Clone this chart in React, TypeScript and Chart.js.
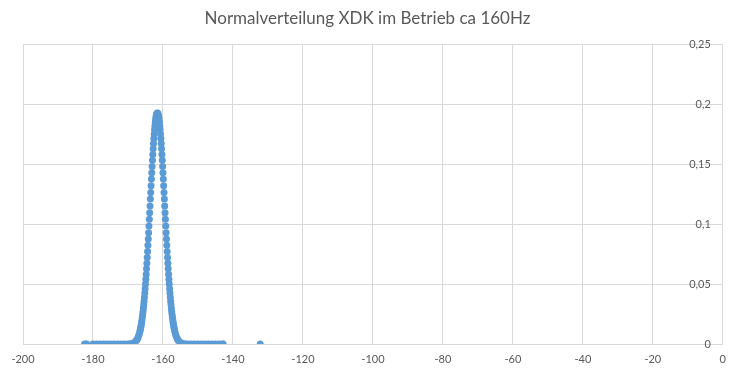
import React, { useEffect, useRef } from "react";
import { Chart, registerables } from "chart.js";

Chart.register(...registerables);

const titleText = "Normalverteilung XDK im Betrieb ca 160Hz";
const xMin = -200;
const xMax = 0;
const xStep = 20;
const yMin = 0;
const yMax = 0.25;
const yStep = 0.05;

const xValues = [
  -182.4, -181.8, -180.0, -179.0, -178.0, -177.0, -176.0, -175.0, -174.0, -173.0, -172.0, -171.0, -170.0,
  -169.3, -168.6, -168.1, -167.6, -167.4, -167.2, -167.0, -166.8, -166.6,
  -166.5, -166.4, -166.3, -166.2, -166.1, -166.0, -165.9, -165.8, -165.7, -165.6,
  -165.5, -165.4, -165.3, -165.2, -165.1, -165.0, -164.9, -164.8, -164.7, -164.6,
  -164.5, -164.4, -164.3, -164.2, -164.1, -164.0, -163.9, -163.8, -163.7, -163.6,
  -163.5, -163.4, -163.3, -163.2, -163.1, -163.0, -162.9, -162.8, -162.7, -162.6,
  -162.5, -162.4, -162.3, -162.2, -162.1, -162.0, -161.9, -161.8, -161.7, -161.6,
  -161.5, -161.4, -161.3, -161.2, -161.1, -161.0, -160.9, -160.8, -160.7, -160.6,
  -160.5, -160.4, -160.3, -160.2, -160.1, -160.0, -159.9, -159.8, -159.7, -159.6,
  -159.5, -159.4, -159.3, -159.2, -159.1, -159.0, -158.9, -158.8, -158.7, -158.6,
  -158.5, -158.4, -158.3, -158.2, -158.1, -158.0, -157.9, -157.8, -157.7, -157.6,
  -157.5, -157.4, -157.3, -157.2, -157.1, -157.0, -156.9, -156.8, -156.7, -156.6,
  -156.4, -156.2, -156.0, -155.8, -155.6, -155.1, -154.6, -153.9,
  -153.0, -152.0, -151.0, -150.0, -149.0, -148.0, -147.0, -146.0, -145.0, -144.0, -143.0, -142.8,
  -132.2,
];

const yValues = [
  0, 0, 0, 0, 0, 0, 0, 0, 0, 0, 0, 0, 0,
  0.0002, 0.0006, 0.0014, 0.0029, 0.0038, 0.005, 0.0064, 0.0082, 0.0104,
  0.0117, 0.0131, 0.0146, 0.0163, 0.0181, 0.0201, 0.0223, 0.0246, 0.0271, 0.0298,
  0.0327, 0.0357, 0.039, 0.0425, 0.0461, 0.05, 0.0541, 0.0583, 0.0628, 0.0674,
  0.0722, 0.0772, 0.0823, 0.0876, 0.0929, 0.0984, 0.104, 0.1096, 0.1152, 0.1209,
  0.1265, 0.1321, 0.1376, 0.143, 0.1482, 0.1533, 0.1582, 0.1629, 0.1674, 0.1715,
  0.1753, 0.1789, 0.182, 0.1848, 0.1872, 0.1892, 0.1907, 0.1918, 0.1925, 0.1927,
  0.1925, 0.1918, 0.1907, 0.1892, 0.1872, 0.1848, 0.182, 0.1789, 0.1753, 0.1715,
  0.1674, 0.1629, 0.1582, 0.1533, 0.1482, 0.143, 0.1376, 0.1321, 0.1265, 0.1209,
  0.1152, 0.1096, 0.104, 0.0984, 0.0929, 0.0876, 0.0823, 0.0772, 0.0722, 0.0674,
  0.0628, 0.0583, 0.0541, 0.05, 0.0461, 0.0425, 0.039, 0.0357, 0.0327, 0.0298,
  0.0271, 0.0246, 0.0223, 0.0201, 0.0181, 0.0163, 0.0146, 0.0131, 0.0117, 0.0104,
  0.0082, 0.0064, 0.005, 0.0038, 0.0029, 0.0014, 0.0006, 0.0002,
  0, 0, 0, 0, 0, 0, 0, 0, 0, 0, 0, 0,
  0,
];

const pointColor = "#5B9BD5";
const gridColor = "#D9D9D9";
const textColor = "#595959";
const fontFamily = "Lato, 'Liberation Sans', sans-serif";

export default function App() {
  const canvasRef = useRef<HTMLCanvasElement | null>(null);

  useEffect(() => {
    const canvas = canvasRef.current;
    if (!canvas) return;
    const points = xValues.map((x, i) => ({ x, y: yValues[i] }));
    const chart = new Chart(canvas, {
      type: "scatter",
      data: {
        datasets: [
          {
            label: "Normalverteilung",
            data: points,
            xAxisID: "x",
            yAxisID: "y",
            backgroundColor: pointColor,
            borderColor: pointColor,
            borderWidth: 0,
            pointRadius: 3.5,
            pointHoverRadius: 3.5,
            showLine: false,
          },
        ],
      },
      options: {
        responsive: false,
        animation: false,
        layout: { padding: 0 },
        plugins: {
          legend: { display: false },
          tooltip: { enabled: false },
          title: {
            display: true,
            text: titleText,
            color: textColor,
            font: { family: fontFamily, size: 17, weight: "normal" },
            padding: { top: 8, bottom: 16 },
          },
        },
        scales: {
          x: {
            type: "linear",
            min: xMin,
            max: xMax,
            ticks: {
              stepSize: xStep,
              color: textColor,
              font: { family: fontFamily, size: 11 },
              padding: 9,
              maxRotation: 0,
            },
            grid: { color: gridColor, drawTicks: false },
            border: { color: gridColor },
            afterFit: (s: any) => {
              s.height = 30;
            },
          },
          y: {
            type: "linear",
            position: "right",
            min: yMin,
            max: yMax,
            ticks: {
              stepSize: yStep,
              mirror: true,
              padding: -12,
              color: textColor,
              font: { family: fontFamily, size: 11 },
              callback: (v: any) => String(Number(v).toFixed(2)).replace(/0+$/, "").replace(/\.$/, "").replace(".", ","),
            },
            grid: { color: gridColor, drawTicks: false },
            border: { color: gridColor },
            afterFit: (s: any) => {
              s.width = 12;
            },
          },
          yLeft: {
            type: "linear",
            position: "left",
            display: true,
            min: yMin,
            max: yMax,
            ticks: { display: false },
            grid: { display: false, drawTicks: false },
            border: { display: false },
            afterFit: (s: any) => {
              s.width = 23;
            },
          },
        },
      },
    });
    return () => chart.destroy();
  }, []);

  return (
    <div style={{ position: "fixed", left: 0, top: 0, width: 735, height: 374, background: "#fff" }}>
      <canvas ref={canvasRef} width={735} height={374} style={{ display: "block" }} />
    </div>
  );
}
